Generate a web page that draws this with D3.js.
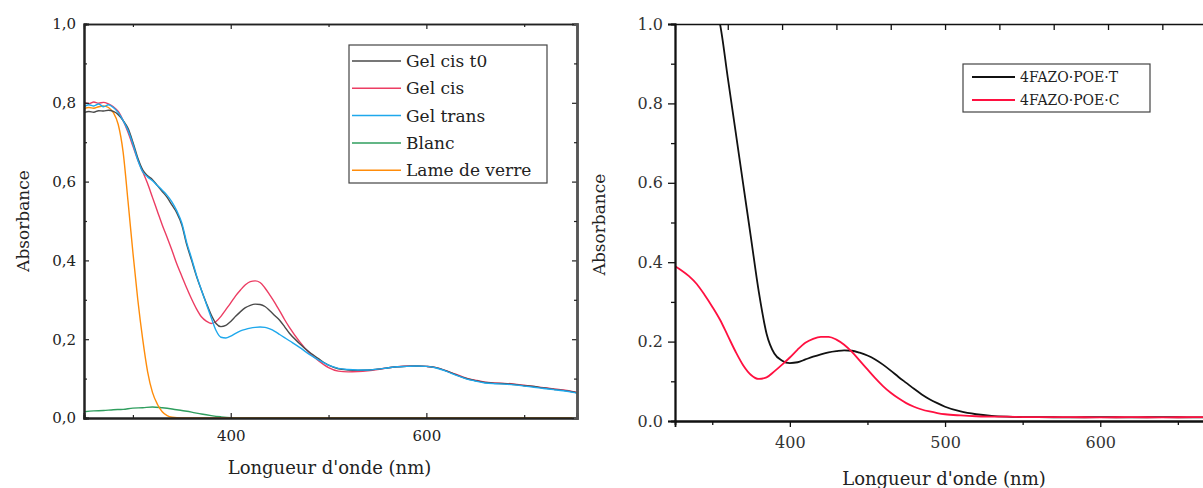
<!DOCTYPE html>
<html><head><meta charset="utf-8">
<script src="https://cdn.jsdelivr.net/npm/d3@7"></script>
<style>
html,body{margin:0;padding:0;background:#fff;}
svg{display:block;font-family:"DejaVu Serif",serif;}
</style></head>
<body><svg id="c" width="1203" height="488"></svg>
<script>
// ---------- Left panel data ----------
const leftSeriesNames = ["Gel cis t0","Gel cis","Gel trans","Blanc","Lame de verre"];
const leftColors = ["#4a4a4a","#ec3d63","#1ea8ec","#2f9e5e","#ff8c0a"];
const wlGelCisT0 = [250,255,260,265,270,275,280,285,290,295,300,305,310,315,320,325,330,335,340,345,350,355,360,365,370,375,380,385,390,395,400,405,410,415,420,425,430,435,440,445,450,455,460,470,480,490,500,510,520,530,540,550,560,570,580,590,600,610,620,630,640,650,660,670,680,690,700,710,720,730,740,750,754];
const absGelCisT0 = [0.775,0.778,0.776,0.780,0.779,0.781,0.778,0.770,0.755,0.735,0.700,0.660,0.630,0.615,0.605,0.590,0.575,0.560,0.540,0.520,0.490,0.440,0.400,0.360,0.325,0.292,0.262,0.240,0.232,0.235,0.245,0.258,0.270,0.280,0.286,0.289,0.288,0.283,0.272,0.260,0.248,0.232,0.215,0.190,0.168,0.150,0.134,0.125,0.122,0.121,0.122,0.124,0.127,0.130,0.131,0.132,0.131,0.128,0.120,0.110,0.101,0.095,0.090,0.088,0.087,0.085,0.082,0.080,0.076,0.073,0.070,0.066,0.064];
const absGelCis = [0.800,0.798,0.802,0.799,0.801,0.797,0.790,0.778,0.755,0.725,0.690,0.655,0.625,0.595,0.560,0.525,0.490,0.458,0.425,0.390,0.360,0.330,0.302,0.277,0.257,0.246,0.240,0.245,0.258,0.275,0.292,0.310,0.325,0.338,0.346,0.348,0.344,0.330,0.312,0.293,0.272,0.250,0.230,0.195,0.166,0.145,0.128,0.119,0.117,0.118,0.120,0.123,0.127,0.130,0.132,0.132,0.131,0.128,0.120,0.111,0.102,0.096,0.091,0.089,0.088,0.086,0.083,0.080,0.077,0.074,0.071,0.067,0.065];
const absGelTrans = [0.790,0.795,0.792,0.797,0.790,0.795,0.788,0.775,0.755,0.730,0.695,0.655,0.625,0.612,0.602,0.590,0.578,0.565,0.548,0.525,0.495,0.445,0.405,0.362,0.325,0.290,0.255,0.222,0.205,0.203,0.208,0.215,0.221,0.225,0.228,0.230,0.231,0.230,0.226,0.220,0.212,0.204,0.196,0.180,0.162,0.147,0.134,0.126,0.123,0.122,0.122,0.124,0.127,0.130,0.131,0.132,0.131,0.127,0.119,0.109,0.100,0.094,0.089,0.087,0.086,0.084,0.081,0.078,0.075,0.072,0.069,0.065,0.063];
const wlBlanc = [250,260,270,280,290,300,310,320,330,340,350,360,370,380,390,400,420,460,520,600,700,754];
const absBlanc = [0.016,0.018,0.019,0.021,0.022,0.025,0.026,0.028,0.026,0.023,0.019,0.015,0.010,0.006,0.003,0.001,0.000,0.000,0.000,0.000,0.000,0.000];
const wlVerre = [250,255,260,265,270,275,280,285,290,295,300,305,310,315,320,325,330,335,340,350,360,400,500,600,700,754];
const absVerre = [0.785,0.788,0.786,0.790,0.792,0.788,0.775,0.745,0.675,0.550,0.420,0.300,0.200,0.118,0.065,0.035,0.016,0.006,0.002,0.000,0.000,0.000,0.000,0.000,0.000,0.000];

const leftXTicks = [400,600];
const leftXMinor = [300,500,700];
const leftYTicks = [0,0.2,0.4,0.6,0.8,1.0];
const leftYMinor = [0.1,0.3,0.5,0.7,0.9];

// ---------- Right panel data ----------
const rightSeriesNames = ["4FAZO\u00b7POE\u00b7T","4FAZO\u00b7POE\u00b7C"];
const rightColors = ["#111111","#ff1040"];
const wlRight = [326,330,335,340,345,350,355,360,365,370,375,380,385,390,395,400,405,410,415,420,425,430,435,440,445,450,455,460,465,470,475,480,485,490,495,500,510,520,530,540,550,560,580,600,620,640,660,672];
const absT = [1.60,1.48,1.36,1.24,1.12,1.06,1.00,0.865,0.730,0.595,0.460,0.325,0.220,0.170,0.152,0.146,0.148,0.155,0.162,0.168,0.173,0.176,0.178,0.177,0.172,0.165,0.155,0.142,0.127,0.111,0.096,0.081,0.067,0.055,0.045,0.036,0.024,0.017,0.013,0.011,0.010,0.010,0.009,0.010,0.009,0.010,0.009,0.010];
const absC = [0.390,0.380,0.365,0.345,0.318,0.288,0.255,0.215,0.175,0.140,0.116,0.106,0.110,0.125,0.142,0.160,0.180,0.197,0.207,0.212,0.212,0.205,0.192,0.174,0.152,0.130,0.108,0.088,0.071,0.057,0.045,0.036,0.029,0.024,0.020,0.017,0.014,0.012,0.011,0.011,0.010,0.010,0.010,0.009,0.010,0.009,0.010,0.009];
const rightXTicks = [400,500,600];
const rightXMinor = [350,450,550,650];
const rightTopTicks = [360,395,430,465,500,535,570,605,640];
const rightYTicks = [0,0.2,0.4,0.6,0.8,1.0];
const rightYMinor = [0.1,0.3,0.5,0.7,0.9];

const svg = d3.select("#c");

// ======== LEFT PANEL ========
(function(){
  const L = {left:84, right:577, top:24, bottom:418};
  const x = d3.scaleLinear().domain([250,754]).range([L.left,L.right]);
  const y = d3.scaleLinear().domain([0,1]).range([L.bottom,L.top]);
  const g = svg.append("g");
  const clipId = "clipL";
  svg.append("clipPath").attr("id",clipId).append("rect")
    .attr("x",L.left).attr("y",L.top).attr("width",L.right-L.left).attr("height",L.bottom-L.top);
  const line = d3.line().x(d=>x(d[0])).y(d=>y(d[1])).curve(d3.curveMonotoneX);
  const series = [
    d3.zip(wlBlanc,absBlanc),
    d3.zip(wlVerre,absVerre),
    d3.zip(wlGelCisT0,absGelCis),
    d3.zip(wlGelCisT0,absGelCisT0),
    d3.zip(wlGelCisT0,absGelTrans)
  ];
  const colIdx = [3,4,1,0,2];
  const pg = g.append("g").attr("clip-path",`url(#${clipId})`);
  series.forEach((s,i)=>{
    pg.append("path").attr("d",line(s)).attr("fill","none")
      .attr("stroke",leftColors[colIdx[i]]).attr("stroke-width",1.4);
  });
  const fmt = d=>d3.format(".1f")(d).replace(".",",");
  const axB = d3.axisBottom(x).tickValues(leftXTicks).tickSize(-5).tickPadding(12).tickFormat(d3.format("d"));
  const axBm = d3.axisBottom(x).tickValues(leftXMinor).tickSize(-3).tickFormat("");
  const axT = d3.axisTop(x).tickValues(leftXTicks).tickSize(-5).tickFormat("");
  const axTm = d3.axisTop(x).tickValues(leftXMinor).tickSize(-3).tickFormat("");
  const axLf = d3.axisLeft(y).tickValues(leftYTicks).tickSize(-5).tickPadding(8).tickFormat(fmt);
  const axLm = d3.axisLeft(y).tickValues(leftYMinor).tickSize(-3).tickFormat("");
  const axR = d3.axisRight(y).tickValues(leftYTicks).tickSize(-5).tickFormat("");
  const axRm = d3.axisRight(y).tickValues(leftYMinor).tickSize(-3).tickFormat("");
  const styleAx = (sel,w)=>{ sel.selectAll("path").attr("stroke","#222").attr("stroke-width",w);
    sel.selectAll("line").attr("stroke","#222").attr("stroke-width",1.2);
    sel.selectAll("text").attr("font-family","DejaVu Serif").attr("font-size",15).attr("fill","#222"); };
  styleAx(g.append("g").attr("transform",`translate(0,${L.bottom})`).call(axB),2);
  styleAx(g.append("g").attr("transform",`translate(0,${L.bottom})`).call(axBm),2);
  styleAx(g.append("g").attr("transform",`translate(0,${L.top})`).call(axT),1.3);
  styleAx(g.append("g").attr("transform",`translate(0,${L.top})`).call(axTm),1.3);
  styleAx(g.append("g").attr("transform",`translate(${L.left},0)`).call(axLf),2);
  styleAx(g.append("g").attr("transform",`translate(${L.left},0)`).call(axLm),2);
  const rA = g.append("g").attr("transform",`translate(${L.right},0)`).call(axR);
  styleAx(rA,2.5); rA.selectAll("path").attr("stroke","#555");
  const rAm = g.append("g").attr("transform",`translate(${L.right},0)`).call(axRm);
  styleAx(rAm,2.5); rAm.selectAll("path").attr("stroke","#555");
  g.append("text").attr("x",(L.left+L.right)/2-1).attr("y",474).attr("text-anchor","middle")
    .attr("font-size",18).attr("fill","#222").text("Longueur d'onde (nm)");
  g.append("text").attr("transform",`translate(29,${(L.top+L.bottom)/2})rotate(-90)`).attr("text-anchor","middle")
    .attr("font-size",17).attr("fill","#222").text("Absorbance");
  const lg = g.append("g");
  lg.append("rect").attr("x",349).attr("y",45).attr("width",198).attr("height",138)
    .attr("fill","#fff").attr("stroke","#444").attr("stroke-width",1.2);
  leftSeriesNames.forEach((n,i)=>{
    const yy = 61 + i*27.3;
    lg.append("line").attr("x1",352).attr("x2",401).attr("y1",yy).attr("y2",yy)
      .attr("stroke",leftColors[i]).attr("stroke-width",1.5);
    lg.append("text").attr("x",406).attr("y",yy+6).attr("font-size",17).attr("fill","#222").text(n);
  });
})();

// ======== RIGHT PANEL ========
(function(){
  const R = {left:675, right:1212, top:24, bottom:421};
  const x = d3.scaleLinear().domain([326,672]).range([R.left,R.right]);
  const y = d3.scaleLinear().domain([0,1]).range([R.bottom,R.top]);
  const g = svg.append("g");
  svg.append("clipPath").attr("id","clipR").append("rect")
    .attr("x",R.left).attr("y",R.top).attr("width",R.right-R.left).attr("height",R.bottom-R.top);
  const line = d3.line().x(d=>x(d[0])).y(d=>y(d[1])).curve(d3.curveMonotoneX);
  const pg = g.append("g").attr("clip-path","url(#clipR)");
  [absT,absC].forEach((a,i)=>{
    pg.append("path").attr("d",line(d3.zip(wlRight,a))).attr("fill","none")
      .attr("stroke",rightColors[i]).attr("stroke-width",1.8);
  });
  const styleAx = (sel,w)=>{ sel.selectAll("path").attr("stroke","#111").attr("stroke-width",w);
    sel.selectAll("line").attr("stroke","#111").attr("stroke-width",1.3);
    sel.selectAll("text").attr("font-family","DejaVu Serif").attr("font-size",16).attr("fill","#333"); };
  styleAx(g.append("g").attr("transform",`translate(0,${R.bottom})`)
    .call(d3.axisBottom(x).tickValues(rightXTicks).tickSize(6).tickPadding(10).tickFormat(d3.format("d"))),1.8);
  styleAx(g.append("g").attr("transform",`translate(0,${R.bottom})`)
    .call(d3.axisBottom(x).tickValues(rightXMinor).tickSize(4).tickFormat("")),1.8);
  styleAx(g.append("g").attr("transform",`translate(0,${R.top})`)
    .call(d3.axisTop(x).tickValues(rightTopTicks).tickSize(-6).tickFormat("")),1.3);
  styleAx(g.append("g").attr("transform",`translate(${R.left},0)`)
    .call(d3.axisLeft(y).tickValues(rightYTicks).tickSize(7).tickPadding(5).tickFormat(d3.format(".1f"))),1.8);
  styleAx(g.append("g").attr("transform",`translate(${R.left},0)`)
    .call(d3.axisLeft(y).tickValues(rightYMinor).tickSize(4).tickFormat("")),1.8);
  g.append("text").attr("x",944).attr("y",485).attr("text-anchor","middle")
    .attr("font-size",18).attr("fill","#222").text("Longueur d'onde (nm)");
  g.append("text").attr("transform",`translate(605,${(R.top+R.bottom)/2+2})rotate(-90)`).attr("text-anchor","middle")
    .attr("font-size",17).attr("fill","#222").text("Absorbance");
  const lg = g.append("g");
  lg.append("rect").attr("x",963).attr("y",64).attr("width",187).attr("height",48)
    .attr("fill","#fff").attr("stroke","#444").attr("stroke-width",1.2);
  rightSeriesNames.forEach((n,i)=>{
    const yy = 77 + i*23;
    lg.append("line").attr("x1",972).attr("x2",1015).attr("y1",yy).attr("y2",yy)
      .attr("stroke",rightColors[i]).attr("stroke-width",2);
    lg.append("text").attr("x",1020).attr("y",yy+5).attr("font-size",14).attr("fill","#222").text(n);
  });
})();
</script></body></html>
